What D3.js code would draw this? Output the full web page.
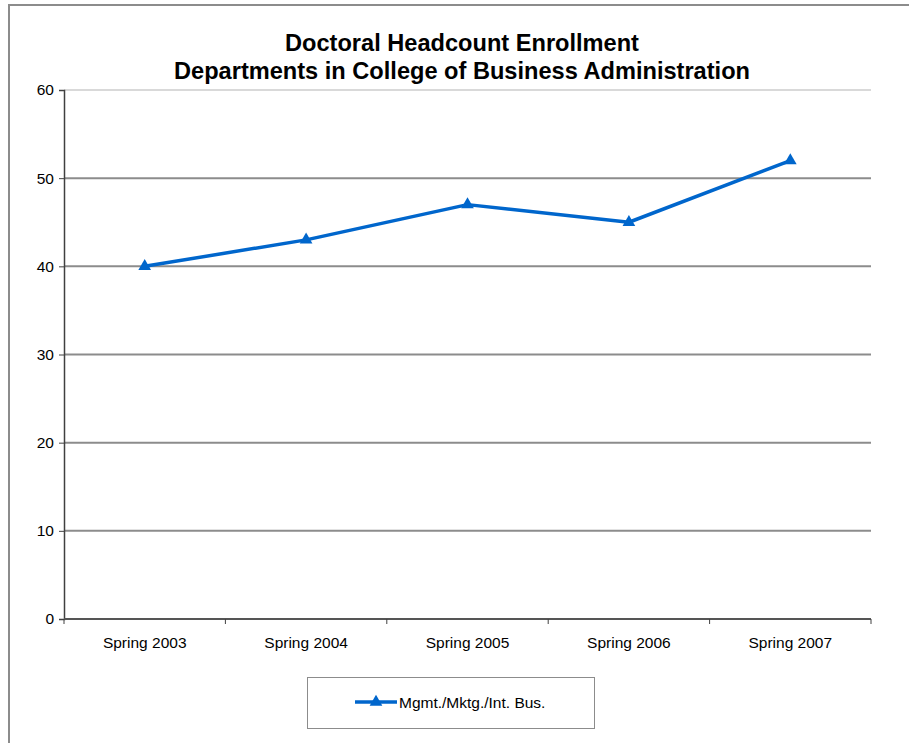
<!DOCTYPE html>
<html><head><meta charset="utf-8">
<script src="https://cdn.jsdelivr.net/npm/d3@7/dist/d3.min.js"></script>
<style>body{margin:0;background:#fff;}svg{display:block;font-family:"Liberation Sans",Arial,sans-serif;}</style>
</head><body>
<svg id="c" width="909" height="743"></svg>
<script>
const categories = ["Spring 2003","Spring 2004","Spring 2005","Spring 2006","Spring 2007"];
const values = [40, 43, 47, 45, 52];
const seriesName = "Mgmt./Mktg./Int. Bus.";
const yTicks = [0,10,20,30,40,50,60];
const titleLines = ["Doctoral Headcount Enrollment","Departments in College of Business Administration"];

const svg = d3.select("#c");
const blue = "#0066CC";
const FS = 15.5;
// outer frame
svg.append("rect").attr("x",9).attr("y",5).attr("width",920).attr("height",760)
  .attr("fill","none").attr("stroke","#8c8c8c").attr("stroke-width",2);

const L=64, R=871, T=90, B=619;
const x = d3.scaleBand().domain(categories).range([L,R]);
const y = d3.scaleLinear().domain([0,60]).range([B,T]);

// gridlines
svg.append("g").selectAll("line").data(yTicks.filter(d=>d>0)).join("line")
  .attr("x1",L).attr("x2",R).attr("y1",d=>y(d)).attr("y2",d=>y(d))
  .attr("stroke",d=>d===60?"#d9d9d9":"#8c8c8c").attr("stroke-width",2);

// y axis
const ya = svg.append("g").attr("transform",`translate(${L},0)`)
  .call(d3.axisLeft(y).tickValues(yTicks).tickSize(5).tickPadding(5));
ya.select(".domain").attr("stroke","#404040").attr("stroke-width",1.5);
ya.selectAll(".tick line").attr("stroke","#404040");
ya.selectAll("text").attr("font-size",FS).attr("fill","#000").attr("font-family","Liberation Sans, Arial, sans-serif");

// x axis
const xa = svg.append("g").attr("transform",`translate(0,${B})`)
  .call(d3.axisBottom(x).tickSize(0).tickPadding(18));
xa.select(".domain").attr("stroke","#555").attr("stroke-width",2).attr("d",`M${L},0H${R}`);
xa.selectAll("text").attr("font-size",FS).attr("fill","#000").attr("font-family","Liberation Sans, Arial, sans-serif");
// boundary ticks
const bounds = categories.map(c=>x(c)).concat([R]);
svg.append("g").selectAll("line").data(bounds).join("line")
  .attr("x1",d=>d).attr("x2",d=>d).attr("y1",B).attr("y2",B+5).attr("stroke","#404040");

// line
const line = d3.line().x((d,i)=>x(categories[i])+x.bandwidth()/2).y(d=>y(d));
svg.append("path").datum(values).attr("d",line).attr("fill","none")
  .attr("stroke",blue).attr("stroke-width",3.5).attr("stroke-linejoin","round");
const tri = d3.symbol().type(d3.symbolTriangle).size(70);
svg.append("g").selectAll("path").data(values).join("path")
  .attr("transform",(d,i)=>`translate(${x(categories[i])+x.bandwidth()/2},${y(d)})`)
  .attr("d",tri).attr("fill",blue);

// title
svg.append("g").selectAll("text").data(titleLines).join("text")
  .attr("x",462).attr("y",(d,i)=>51+i*28).attr("text-anchor","middle")
  .attr("font-size",23.6).attr("font-weight","bold").attr("fill","#000").text(d=>d);

// legend
svg.append("rect").attr("x",307.5).attr("y",677.5).attr("width",287).attr("height",51)
  .attr("fill","#fff").attr("stroke","#8c8c8c").attr("stroke-width",1);
svg.append("line").attr("x1",355).attr("x2",397).attr("y1",702).attr("y2",702)
  .attr("stroke",blue).attr("stroke-width",3.5);
svg.append("path").attr("d",tri).attr("transform","translate(376,702)").attr("fill",blue);
svg.append("text").attr("x",399).attr("y",708).attr("font-size",FS).attr("fill","#000").text(seriesName);
</script>
</body></html>
